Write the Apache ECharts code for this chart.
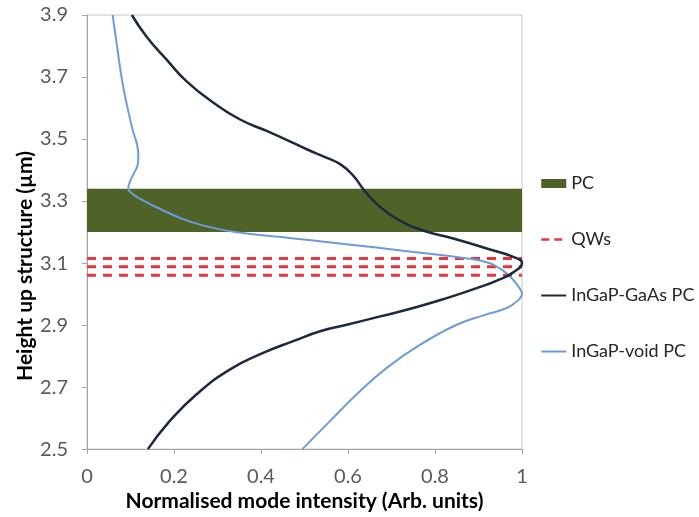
<!DOCTYPE html>
<html>
<head>
<meta charset="utf-8">
<script src="https://cdn.jsdelivr.net/npm/echarts@6/dist/echarts.min.js"></script>
<style>html,body{margin:0;padding:0;background:#fff;}#chart{width:699px;height:517px;}</style>
</head>
<body>
<div id="chart"></div>
<script>
// Tick labels
var xTicks = [0, 0.2, 0.4, 0.6, 0.8, 1];
var yTicks = [2.5, 2.7, 2.9, 3.1, 3.3, 3.5, 3.7, 3.9];

// Axis titles
var xTitle = 'Normalised mode intensity (Arb. units)';
var yTitle = 'Height up structure (µm)';

// PC layer band (height, µm)
var pcBand = [3.2, 3.34];
// Quantum well heights (µm)
var qwHeights = [3.061, 3.088, 3.115];

// InGaP-GaAs PC profile (height µm, normalised intensity)
var gaasHeight = [2.50, 2.59, 2.677, 2.757, 2.81, 2.848, 2.88, 2.901, 2.928, 2.955, 2.987, 3.019, 3.045, 3.07, 3.10, 3.12, 3.147, 3.179, 3.205, 3.243, 3.291, 3.339, 3.382, 3.419, 3.44, 3.467, 3.50, 3.526, 3.563, 3.618, 3.686, 3.756, 3.83, 3.90];
var gaasIntensity = [0.140, 0.190, 0.252, 0.329, 0.405, 0.474, 0.536, 0.597, 0.674, 0.750, 0.827, 0.896, 0.945, 0.980, 1.000, 0.980, 0.919, 0.842, 0.773, 0.712, 0.666, 0.635, 0.612, 0.582, 0.550, 0.505, 0.455, 0.413, 0.352, 0.290, 0.229, 0.183, 0.137, 0.103];

// InGaP-void PC profile (height µm, normalised intensity)
var voidHeight = [2.50, 2.591, 2.677, 2.762, 2.837, 2.901, 2.933, 2.955, 2.981, 3.00, 3.02, 3.05, 3.077, 3.10, 3.115, 3.136, 3.15, 3.165, 3.18, 3.20, 3.22, 3.245, 3.28, 3.31, 3.33, 3.34, 3.36, 3.39, 3.42, 3.45, 3.54, 3.67, 3.81, 3.90];
var voidIntensity = [0.495, 0.559, 0.620, 0.689, 0.766, 0.850, 0.915, 0.965, 0.992, 1.000, 0.994, 0.977, 0.955, 0.925, 0.875, 0.750, 0.665, 0.570, 0.470, 0.340, 0.270, 0.215, 0.160, 0.118, 0.099, 0.095, 0.098, 0.108, 0.117, 0.118, 0.103, 0.083, 0.068, 0.059];

function pairs(xs, ys) { return xs.map(function (x, i) { return [x, ys[i]]; }); }

var FONT = 'Lato';
var series = [
  {
    name: 'PC', type: 'line', data: [], symbol: 'none',
    itemStyle: { color: '#4f6228' }, lineStyle: { color: '#4f6228' },
    markArea: { silent: true, itemStyle: { color: '#4f6228', opacity: 1 },
      data: [[{ yAxis: pcBand[0] }, { yAxis: pcBand[1] }]] },
    z: 1
  }
];
qwHeights.forEach(function (h) {
  series.push({
    name: 'QWs', type: 'line', symbol: 'none', silent: true,
    data: [[xTicks[0], h], [xTicks[xTicks.length - 1], h]],
    itemStyle: { color: '#e8343c' },
    lineStyle: { color: '#e8343c', width: 3, type: [9, 7] },
    z: 2
  });
});
series.push({
  name: 'InGaP-GaAs PC', type: 'line', symbol: 'none', smooth: 0.5,
  data: pairs(gaasIntensity, gaasHeight),
  itemStyle: { color: '#1c2a3e' }, lineStyle: { color: '#1c2a3e', width: 2.5 }, z: 4
});
series.push({
  name: 'InGaP-void PC', type: 'line', symbol: 'none', smooth: 0.45,
  data: pairs(voidIntensity, voidHeight),
  itemStyle: { color: '#6d9dd8' }, lineStyle: { color: '#6d9dd8', width: 2 }, z: 3
});

var hideSym = { opacity: 0, borderWidth: 0 };
var chart = echarts.init(document.getElementById('chart'), null, { renderer: 'canvas' });
chart.setOption({
  animation: false,
  backgroundColor: '#ffffff',
  grid: { left: 87, right: 177, top: 15, bottom: 65, show: true, borderColor: '#c8c8c8', borderWidth: 1, backgroundColor: 'transparent' },
  legend: {
    orient: 'vertical', left: 535, top: 168, itemGap: 35, itemWidth: 25, itemHeight: 9,
    data: [
      { name: 'PC', icon: 'rect' },
      { name: 'QWs', itemStyle: hideSym, lineStyle: { width: 2.5, type: [8, 5] } },
      { name: 'InGaP-GaAs PC', itemStyle: hideSym },
      { name: 'InGaP-void PC', itemStyle: hideSym }
    ],
    textStyle: { fontFamily: FONT, fontSize: 18, color: '#262626', lineHeight: 21 },
    selectedMode: false
  },
  graphic: [{
    type: 'text', x: 25, y: 266, rotation: Math.PI / 2, silent: true,
    style: { text: yTitle, fontFamily: FONT, fontWeight: 'bold', fontSize: 21, fill: '#000',
      textAlign: 'center', textVerticalAlign: 'middle' }
  }],
  xAxis: {
    type: 'value', min: xTicks[0], max: xTicks[xTicks.length - 1], interval: 0.2,
    name: xTitle, nameLocation: 'middle', nameGap: 40,
    nameTextStyle: { fontFamily: FONT, fontWeight: 'bold', fontSize: 21, color: '#000' },
    axisLine: { show: true, onZero: false, lineStyle: { color: '#a6a6a6', width: 1 } },
    axisTick: { show: true, inside: false, length: 5, lineStyle: { color: '#a6a6a6' } },
    axisLabel: { margin: 17, fontFamily: FONT, fontSize: 20, color: '#595959',
      formatter: function (v) { return String(+v.toFixed(1)); } },
    splitLine: { show: false }
  },
  yAxis: {
    type: 'value', min: yTicks[0], max: yTicks[yTicks.length - 1], interval: 0.2,
    axisLine: { show: true, onZero: false, lineStyle: { color: '#a6a6a6', width: 1 } },
    axisTick: { show: true, inside: false, length: 5, lineStyle: { color: '#a6a6a6' } },
    axisLabel: { margin: 19, fontFamily: FONT, fontSize: 20, color: '#595959',
      formatter: function (v) { return v.toFixed(1); } },
    splitLine: { show: false }
  },
  series: series
});
</script>
</body>
</html>
